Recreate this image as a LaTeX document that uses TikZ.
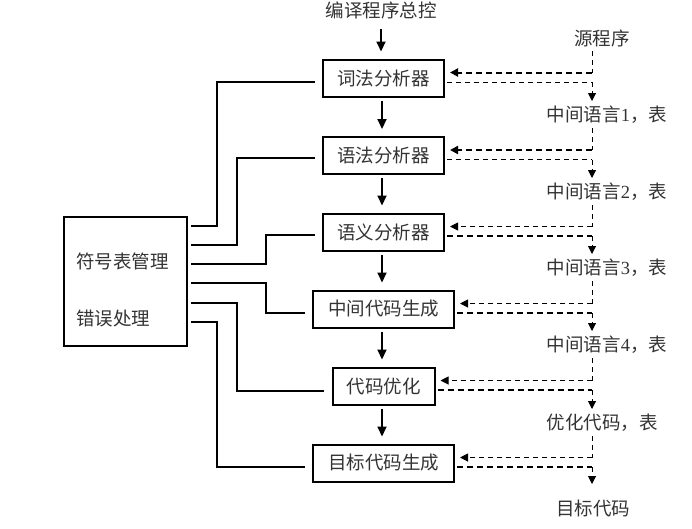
\documentclass[tikz,border=0pt]{standalone}
\usepackage{fontspec}
\setmainfont{Liberation Serif}
\newfontfamily\cjk{Noto Sans CJK SC}
\newcommand\zhtxt[1]{{\cjk #1}}
\usetikzlibrary{arrows.meta,calc}
\begin{document}
\begin{tikzpicture}[x=1pt,y=-1pt,
  txt/.style={inner sep=0pt,text=black!80,font=\cjk\fontsize{18.5}{21}\selectfont},
  box/.style={txt,draw=black,line width=2pt,minimum height=37pt},
  conn/.style={line width=2pt},
  flow/.style={line width=2pt,-{Triangle[length=10pt,width=9pt]}},
  dthick/.style={line width=2pt,dash pattern=on 6pt off 4pt},
  dthin/.style={line width=1pt,dash pattern=on 5pt off 4pt},
  tip/.style={-{Triangle[length=8pt,width=8pt]}}]
\useasboundingbox (0,0) rectangle (692,528);

% main column
\node[txt] (title) at (381,10) {编译程序总控};
\node[box,minimum width=121pt] (b1) at (383.5,78) {词法分析器};
\node[box,minimum width=121pt] (b2) at (383.5,155.5) {语法分析器};
\node[box,minimum width=121pt] (b3) at (383.5,232) {语义分析器};
\node[box,minimum width=141pt] (b4) at (383.5,309) {中间代码生成};
\node[box,minimum width=102pt] (b5) at (383.5,386) {代码优化};
\node[box,minimum width=141pt] (b6) at (383.5,463) {目标代码生成};

% left box
\node[draw,line width=2pt,minimum width=123pt,minimum height=129pt,inner sep=0pt] (m) at (125.5,281.5) {};
\node[txt,anchor=west] (m1) at (76,261) {符号表管理};
\node[txt,anchor=west] (m2) at (76,318) {错误处理};

% right labels
\node[txt] (src) at (602,38) {源程序};
\node[txt,font=\fontsize{18.5}{21}\selectfont] (l1) at (607,115) {\zhtxt{中间语言}1\zhtxt{，表}};
\node[txt,font=\fontsize{18.5}{21}\selectfont] (l2) at (607,192) {\zhtxt{中间语言}2\zhtxt{，表}};
\node[txt,font=\fontsize{18.5}{21}\selectfont] (l3) at (607,268) {\zhtxt{中间语言}3\zhtxt{，表}};
\node[txt,font=\fontsize{18.5}{21}\selectfont] (l4) at (607,345) {\zhtxt{中间语言}4\zhtxt{，表}};
\node[txt] (l5) at (602,423) {优化代码，表};
\node[txt] (tgt) at (593,508) {目标代码};

% control flow arrows
\draw[flow,shorten <=10pt,shorten >=7pt] (title.south) -- (title.south |- b1.north);
\draw[flow,shorten <=3pt,shorten >=7pt] ([xshift=-1.5pt]b1.south) -- ([xshift=-1.5pt]b2.north);
\draw[flow,shorten <=3pt,shorten >=7pt] ([xshift=-1.5pt]b2.south) -- ([xshift=-1.5pt]b3.north);
\draw[flow,shorten <=3pt,shorten >=7pt] ([xshift=-1.5pt]b3.south) -- ([xshift=-1.5pt]b4.north);
\draw[flow,shorten <=3pt,shorten >=7pt] ([xshift=-1.5pt]b4.south) -- ([xshift=-1.5pt]b5.north);
\draw[flow,shorten <=3pt,shorten >=7pt] ([xshift=-1.5pt]b5.south) -- ([xshift=-1.5pt]b6.north);

% connections from the left box
\draw[conn] ($(m.north east)+(3,10)$) -| ($(b1.west)+(-105,4)$) -- ($(b1.west)+(-7,4)$);
\draw[conn] ($(m.north east)+(3,29)$) -| ($(b2.west)+(-85,2.5)$) -- ($(b2.west)+(-7,2.5)$);
\draw[conn] ($(m.north east)+(3,48)$) -| ($(b3.west)+(-56,3)$) -- ($(b3.west)+(-7,3)$);
\draw[conn] ($(m.north east)+(3,67)$) -| ($(b4.west)+(-46,4)$) -- ($(b4.west)+(-7,4)$);
\draw[conn] ($(m.north east)+(3,87)$) -| ($(b5.west)+(-94.5,5)$) -- ($(b5.west)+(-7.5,5)$);
\draw[conn] ($(m.north east)+(3,106)$) -| ($(b6.west)+(-95,4)$) -- ($(b6.west)+(-7,4)$);

% data flow on the right
\coordinate (rx) at (592,0);
\foreach \b/\p/\n/\ua/\la/\d in {b1/src/l1/dthick/dthin/14, b2/l1/l2/dthick/dthin/14, b3/l2/l3/dthin/dthick/14, b4/l3/l4/dthin/dthick/14, b5/l4/l5/dthin/dthick/14, b6/l5/tgt/dthin/dthick/24}{
  \coordinate (U) at ($(\b.east)+(0,-5.5)$);
  \coordinate (L) at ($(\b.east)+(2,4)$);
  \coordinate (P) at ($(\p.center)+(0,13)$);
  \coordinate (N) at ($(\n.center)+(0,-\d)$);
  \draw[dthin] (rx |- P) -- (rx |- U);
  \draw[\ua,tip,shorten >=5pt] (rx |- U) -- (U);
  \draw[\la] (L) -- (rx |- L);
  \draw[dthin,tip] (rx |- L) -- (rx |- N);
}
\end{tikzpicture}
\end{document}
